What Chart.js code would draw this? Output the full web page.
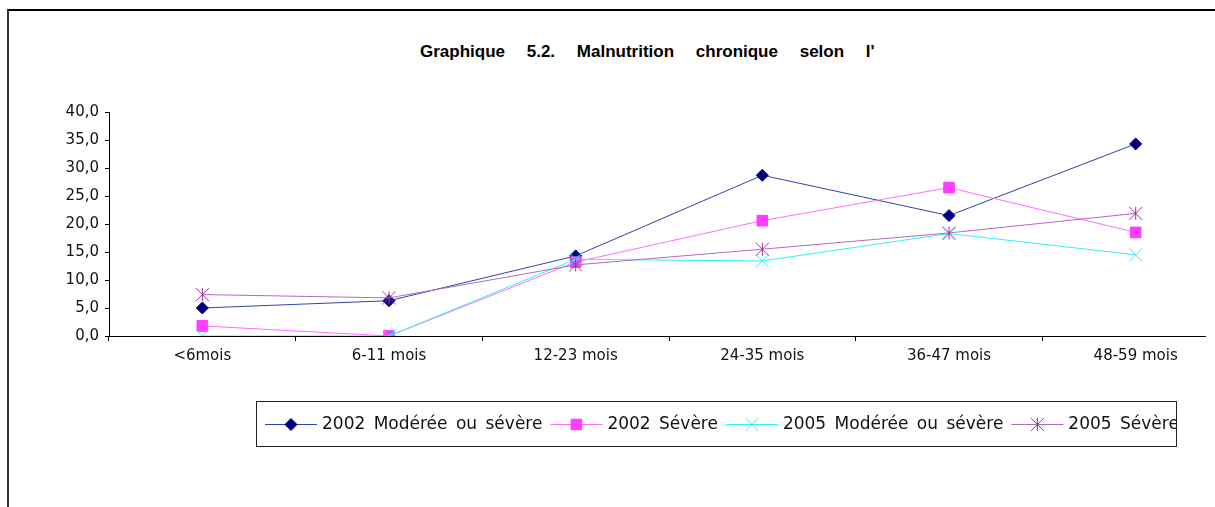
<!DOCTYPE html>
<html>
<head>
<meta charset="utf-8">
<script src="https://cdn.jsdelivr.net/npm/chart.js@4/dist/chart.umd.min.js"></script>
<style>
  html, body { margin: 0; padding: 0; background: #fff; overflow: hidden; }
  #frame { position: absolute; left: 7px; top: 9px; width: 1400px; height: 700px;
    border-top: 2px solid #000; border-left: 2px solid #333; }
  #titre { position: absolute; left: 420px; top: 42px; white-space: pre;
    font: bold 17px "Liberation Sans", Arial, sans-serif; word-spacing: 17px; color: #000; }
  #wrap { position: absolute; left: 0; top: 0; width: 1206px; height: 470px; overflow: hidden; }
</style>
</head>
<body>
<div id="frame"></div>
<div id="titre">Graphique 5.2. Malnutrition chronique selon l'</div>
<div id="wrap"><canvas id="chart-malnutrition" width="1240" height="470"></canvas></div>
<script>
// categories et valeurs
const ages = ["<6mois", "6-11 mois", "12-23 mois", "24-35 mois", "36-47 mois", "48-59 mois"];
const moderee2002 = [5.0, 6.3, 14.3, 28.7, 21.5, 34.3];
const severe2002 = [1.8, 0.0, 13.2, 20.6, 26.5, 18.5];
const moderee2005 = [0.0, 0.0, 13.7, 13.4, 18.3, 14.5];
const severe2005 = [7.4, 6.8, 12.7, 15.5, 18.4, 21.9];
const yTicks = [0, 5, 10, 15, 20, 25, 30, 35, 40];

// marqueur etoile (X + trait vertical) comme Excel
function makeStar(color) {
  var c = document.createElement("canvas");
  c.width = 15;
  c.height = 15;
  var g = c.getContext("2d");
  g.strokeStyle = color;
  g.lineWidth = 1;
  g.beginPath();
  g.moveTo(1, 1); g.lineTo(14, 14);
  g.moveTo(14, 1); g.lineTo(1, 14);
  g.moveTo(7.5, 1); g.lineTo(7.5, 14);
  g.stroke();
  return c;
}
const starMark = makeStar("#993399");

const legendPlugin = {
  id: "legendBox",
  afterDraw(chart) {
    const ctx = chart.ctx;
    const bx = 256.5, by = 401.5, bw = 920, bh = 45;
    ctx.save();
    ctx.strokeStyle = "#222";
    ctx.lineWidth = 1;
    ctx.strokeRect(bx, by, bw, bh);
    ctx.beginPath();
    ctx.rect(bx, by, bw, bh);
    ctx.clip();
    ctx.font = '17px "DejaVu Sans"';
    ctx.textBaseline = "middle";
    if ("wordSpacing" in ctx) ctx.wordSpacing = "3px";
    let x = 265;
    const y = 424;
    chart.data.datasets.forEach((ds) => {
      ctx.strokeStyle = ds.borderColor;
      ctx.lineWidth = 1;
      ctx.beginPath();
      ctx.moveTo(x, y + 0.5);
      ctx.lineTo(x + 52, y + 0.5);
      ctx.stroke();
      ctx.fillStyle = ds.pointBackgroundColor;
      ctx.strokeStyle = ds.pointBorderColor;
      Chart.helpers.drawPoint(ctx, {
        pointStyle: ds.pointStyle,
        radius: ds.pointRadius,
        borderWidth: ds.pointBorderWidth,
        rotation: 0,
      }, x + 26, y + 0.5);
      ctx.fillStyle = "#111";
      ctx.fillText(ds.label, x + 57, y + 1);
      x = x + 57 + ctx.measureText(ds.label).width + 8;
    });
    ctx.restore();
  },
};

function createChartMalnutrition() {
  var ctx = document.getElementById("chart-malnutrition").getContext("2d");
  new Chart(ctx, {
    type: "line",
    plugins: [legendPlugin],
    data: {
      labels: ages,
      datasets: [
        {
          label: "2002 Modérée ou sévère",
          data: moderee2002,
          tension: 0,
          borderWidth: 1,
          borderColor: "#3242a6",
          pointStyle: "rectRot",
          pointRadius: 6,
          pointBorderWidth: 1,
          pointBackgroundColor: "#000080",
          pointBorderColor: "#000080",
          order: 4,
        },
        {
          label: "2002 Sévère",
          data: severe2002,
          tension: 0,
          borderWidth: 1,
          borderColor: "#ff6cff",
          pointStyle: "rect",
          pointRadius: 7.5,
          pointBorderWidth: 1,
          pointBackgroundColor: "#ff3cff",
          pointBorderColor: "#ff3cff",
          order: 3,
        },
        {
          label: "2005 Modérée ou sévère",
          data: moderee2005,
          tension: 0,
          borderWidth: 1,
          borderColor: "#33f0ff",
          pointStyle: "crossRot",
          pointRadius: 9,
          pointBorderWidth: 1,
          pointBackgroundColor: "#22eeff",
          pointBorderColor: "#22eeff",
          order: 2,
        },
        {
          label: "2005 Sévère",
          data: severe2005,
          tension: 0,
          borderWidth: 1,
          borderColor: "#b06cc0",
          pointStyle: starMark,
          pointRadius: 7,
          pointBorderWidth: 1,
          pointBackgroundColor: "#993399",
          pointBorderColor: "#993399",
          order: 1,
        },
      ],
    },
    options: {
      responsive: false,
      animation: false,
      devicePixelRatio: 1,
      layout: { padding: { top: 112, right: 11, bottom: 0, left: 0 } },
      plugins: {
        legend: { display: false },
        title: { display: false },
        tooltip: { enabled: false },
      },
      scales: {
        x: {
          offset: true,
          grid: {
            display: true,
            offset: true,
            drawOnChartArea: false,
            drawTicks: true,
            tickLength: 5,
            color: "#000",
          },
          border: { color: "#000", width: 1 },
          ticks: {
            color: "#111",
            padding: 6,
            maxRotation: 0,
            autoSkip: false,
            font: { family: "DejaVu Sans", size: 15 },
          },
          afterFit: function (scale) {
            scale.height = 134;
          },
        },
        y: {
          min: 0,
          max: 40,
          afterBuildTicks: function (scale) {
            scale.ticks = yTicks.map((v) => ({ value: v }));
          },
          grid: {
            display: true,
            drawOnChartArea: false,
            drawTicks: true,
            tickLength: 4,
            color: "#000",
          },
          border: { color: "#000", width: 1 },
          ticks: {
            color: "#111",
            padding: 6,
            font: { family: "DejaVu Sans", size: 15 },
            callback: function (value) {
              return Number(value).toFixed(1).replace(".", ",");
            },
          },
          afterFit: function (scale) {
            scale.width = 109;
          },
        },
      },
    },
  });
}

createChartMalnutrition();
</script>
</body>
</html>
